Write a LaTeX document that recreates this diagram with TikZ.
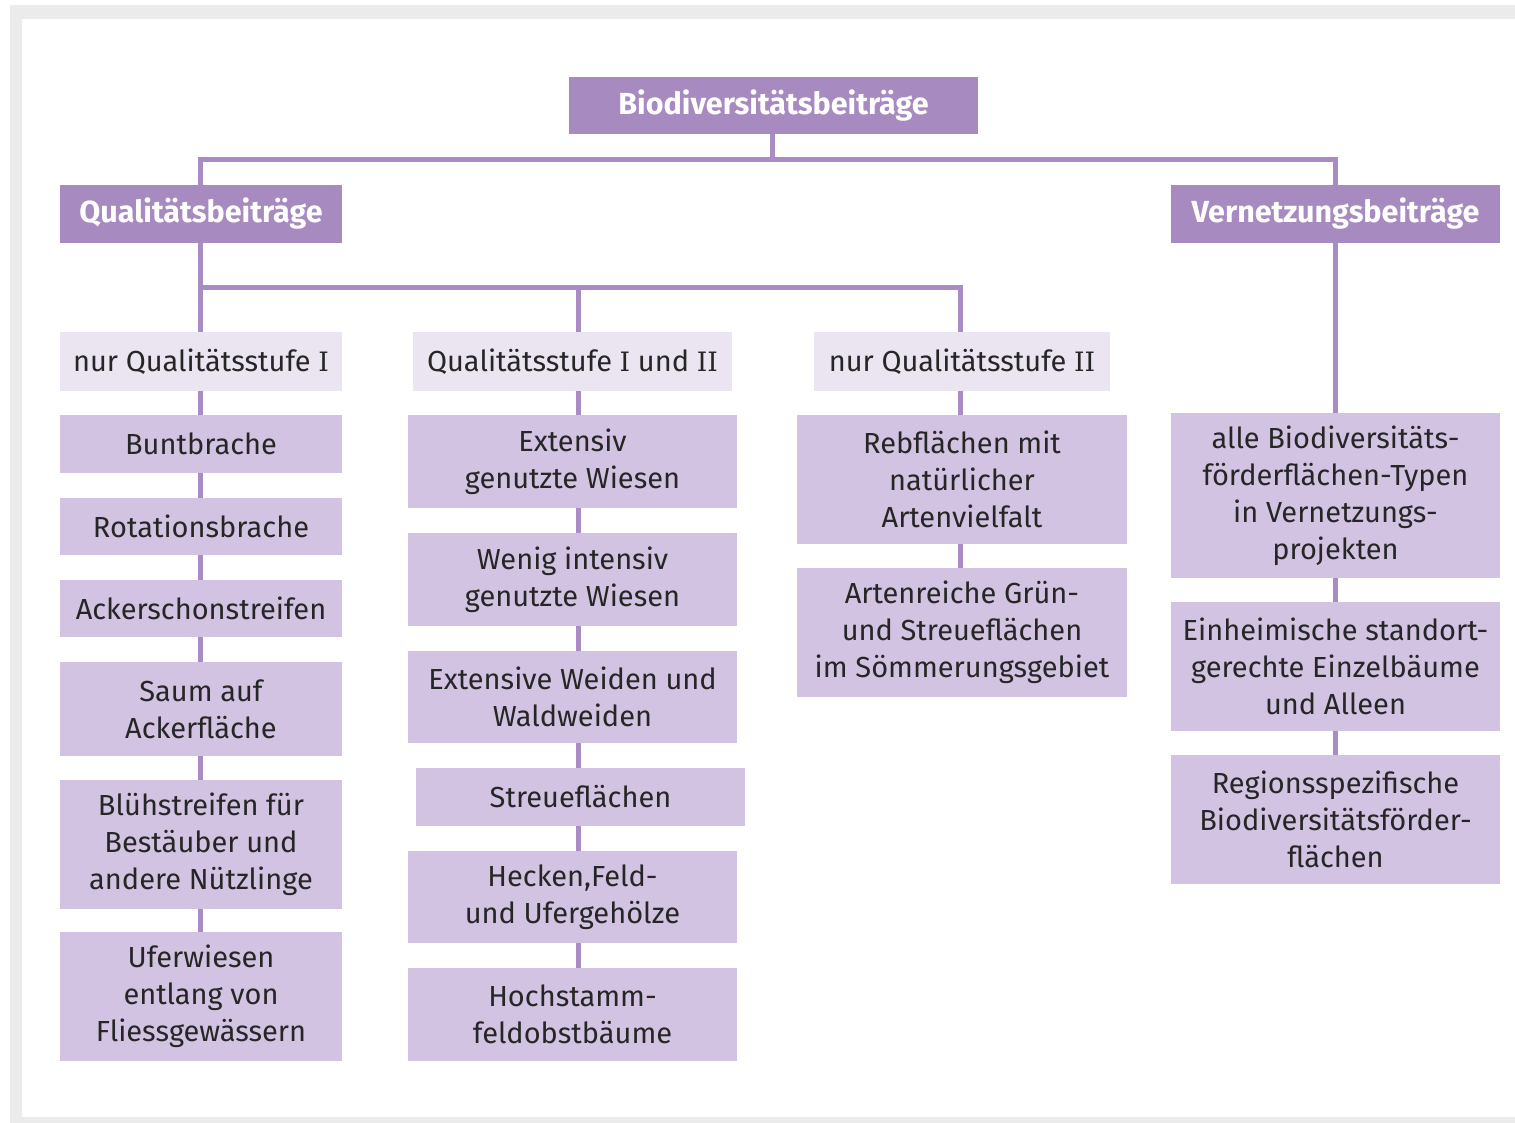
\documentclass[tikz,border=0pt]{standalone}
\usepackage{fontspec}
\setmainfont{Fira Sans}
\newfontfamily\rnfont[Scale=0.92]{DejaVu Serif}
\newcommand{\rnum}[1]{{\rnfont #1}}
\definecolor{hd}{HTML}{A78AC0}
\definecolor{it}{HTML}{D3C3E3}
\definecolor{lv}{HTML}{EBE4F1}
\definecolor{ln}{HTML}{A98CC3}
\definecolor{txt}{HTML}{262626}
\definecolor{frame}{HTML}{EBEBEB}
\tikzset{
  box/.style={rectangle, inner sep=0pt, align=center, text=txt,
    font=\fontsize{29}{37}\selectfont},
  head/.style={box, fill=hd, text=white, font=\fontsize{30.5}{37}\selectfont\bfseries},
  lvl/.style={box, fill=lv},
  item/.style={box, fill=it},
  conn/.style={draw=ln, line width=5pt},
}
\begin{document}
\begin{tikzpicture}[x=1pt,y=-1pt]
\useasboundingbox (0,0) rectangle (1515,1123);
\fill[white] (0,0) rectangle (1515,1123);
\fill[frame] (10,5) rectangle (1515,1123);
\fill[white] (22,19) rectangle (1515,1117);

% headers
\node[head, minimum width=409pt, minimum height=57pt] (top) at (773.5,105.5) {Biodiversitätsbeiträge};
\node[head, minimum width=282pt, minimum height=58pt] (qual) at (201,214) {Qualitätsbeiträge};
\node[head, minimum width=329pt, minimum height=58pt] (vern) at (1335.5,214) {Vernetzungsbeiträge};

% level 2
\node[lvl, minimum width=282pt, minimum height=59pt] (nurI) at (201,361.5) {nur Qualitätsstufe \rnum{I}};
\node[lvl, minimum width=319pt, minimum height=59pt] (both) at (572.5,361.5) {Qualitätsstufe \rnum{I} und \rnum{II}};
\node[lvl, minimum width=296pt, minimum height=59pt] (nurII) at (962,361.5) {nur Qualitätsstufe \rnum{II}};

% column 1
\node[item, minimum width=282pt, minimum height=58pt] (a1) at (201,444) {Buntbrache};
\node[item, minimum width=282pt, minimum height=57pt] (a2) at (201,526.5) {Rotationsbrache};
\node[item, minimum width=282pt, minimum height=57pt] (a3) at (201,608.5) {Ackerschonstreifen};
\node[item, minimum width=282pt, minimum height=94pt] (a4) at (201,709) {Saum auf\\Ackerfläche};
\node[item, minimum width=282pt, minimum height=129pt] (a5) at (201,844.5) {Blühstreifen für\\Bestäuber und\\andere Nützlinge};
\node[item, minimum width=282pt, minimum height=129pt] (a6) at (201,996.5) {Uferwiesen\\entlang von\\Fliessgewässern};

% column 2
\node[item, minimum width=329pt, minimum height=93pt] (b1) at (572.5,461.5) {Extensiv\\genutzte Wiesen};
\node[item, minimum width=329pt, minimum height=93pt] (b2) at (572.5,579.5) {Wenig intensiv\\genutzte Wiesen};
\node[item, minimum width=329pt, minimum height=92pt] (b3) at (572.5,697) {Extensive Weiden und\\Waldweiden};
\node[item, minimum width=329pt, minimum height=58pt] (b4) at (580.5,797) {Streueflächen};
\node[item, minimum width=329pt, minimum height=92pt] (b5) at (572.5,897) {Hecken,Feld-\\und Ufergehölze};
\node[item, minimum width=329pt, minimum height=93pt] (b6) at (572.5,1014.5) {Hochstamm-\\feldobstbäume};

% column 3
\node[item, minimum width=330pt, minimum height=129pt] (c1) at (962,479.5) {Rebflächen mit\\natürlicher\\Artenvielfalt};
\node[item, minimum width=330pt, minimum height=129pt] (c2) at (962,632.5) {Artenreiche Grün-\\und Streueflächen\\im Sömmerungsgebiet};

% column 4
\node[item, minimum width=329pt, minimum height=165pt] (d1) at (1335.5,495.5) {alle Biodiversitäts-\\förderflächen-Typen\\in Vernetzungs-\\projekten};
\node[item, minimum width=329pt, minimum height=129pt] (d2) at (1335.5,666.5) {Einheimische standort-\\gerechte Einzelbäume\\und Alleen};
\node[item, minimum width=329pt, minimum height=129pt] (d3) at (1335.5,819.5) {Regionsspezifische\\Biodiversitätsförder-\\flächen};

% connector guides
\coordinate (x1) at (200,0);
\coordinate (x2) at (578,0);
\coordinate (x3) at (960,0);
\coordinate (x4) at (1335,0);
\coordinate (ja) at (772,160);
\coordinate (jb) at (200,288);

\draw[conn] (top.south -| ja) -- (ja);
\draw[conn] (qual.north -| x1) -- (x1 |- ja) -- (x4 |- ja) -- (vern.north -| x4);
\draw[conn] (vern.south -| x4) -- (d1.north -| x4);
\draw[conn] (qual.south -| x1) -- (nurI.north -| x1);
\draw[conn] (jb) -- (x3 |- jb) -- (nurII.north -| x3);
\draw[conn] (x2 |- jb) -- (both.north -| x2);

\draw[conn] (nurI.south -| x1) -- (a1.north -| x1);
\draw[conn] (a1.south -| x1) -- (a2.north -| x1);
\draw[conn] (a2.south -| x1) -- (a3.north -| x1);
\draw[conn] (a3.south -| x1) -- (a4.north -| x1);
\draw[conn] (a4.south -| x1) -- (a5.north -| x1);
\draw[conn] (a5.south -| x1) -- (a6.north -| x1);

\draw[conn] (both.south -| x2) -- (b1.north -| x2);
\draw[conn] (b1.south -| x2) -- (b2.north -| x2);
\draw[conn] (b2.south -| x2) -- (b3.north -| x2);
\draw[conn] (b3.south -| x2) -- (b4.north -| x2);
\draw[conn] (b4.south -| x2) -- (b5.north -| x2);
\draw[conn] (b5.south -| x2) -- (b6.north -| x2);

\draw[conn] (nurII.south -| x3) -- (c1.north -| x3);
\draw[conn] (c1.south -| x3) -- (c2.north -| x3);

\draw[conn] (d1.south -| x4) -- (d2.north -| x4);
\draw[conn] (d2.south -| x4) -- (d3.north -| x4);
\end{tikzpicture}
\end{document}
